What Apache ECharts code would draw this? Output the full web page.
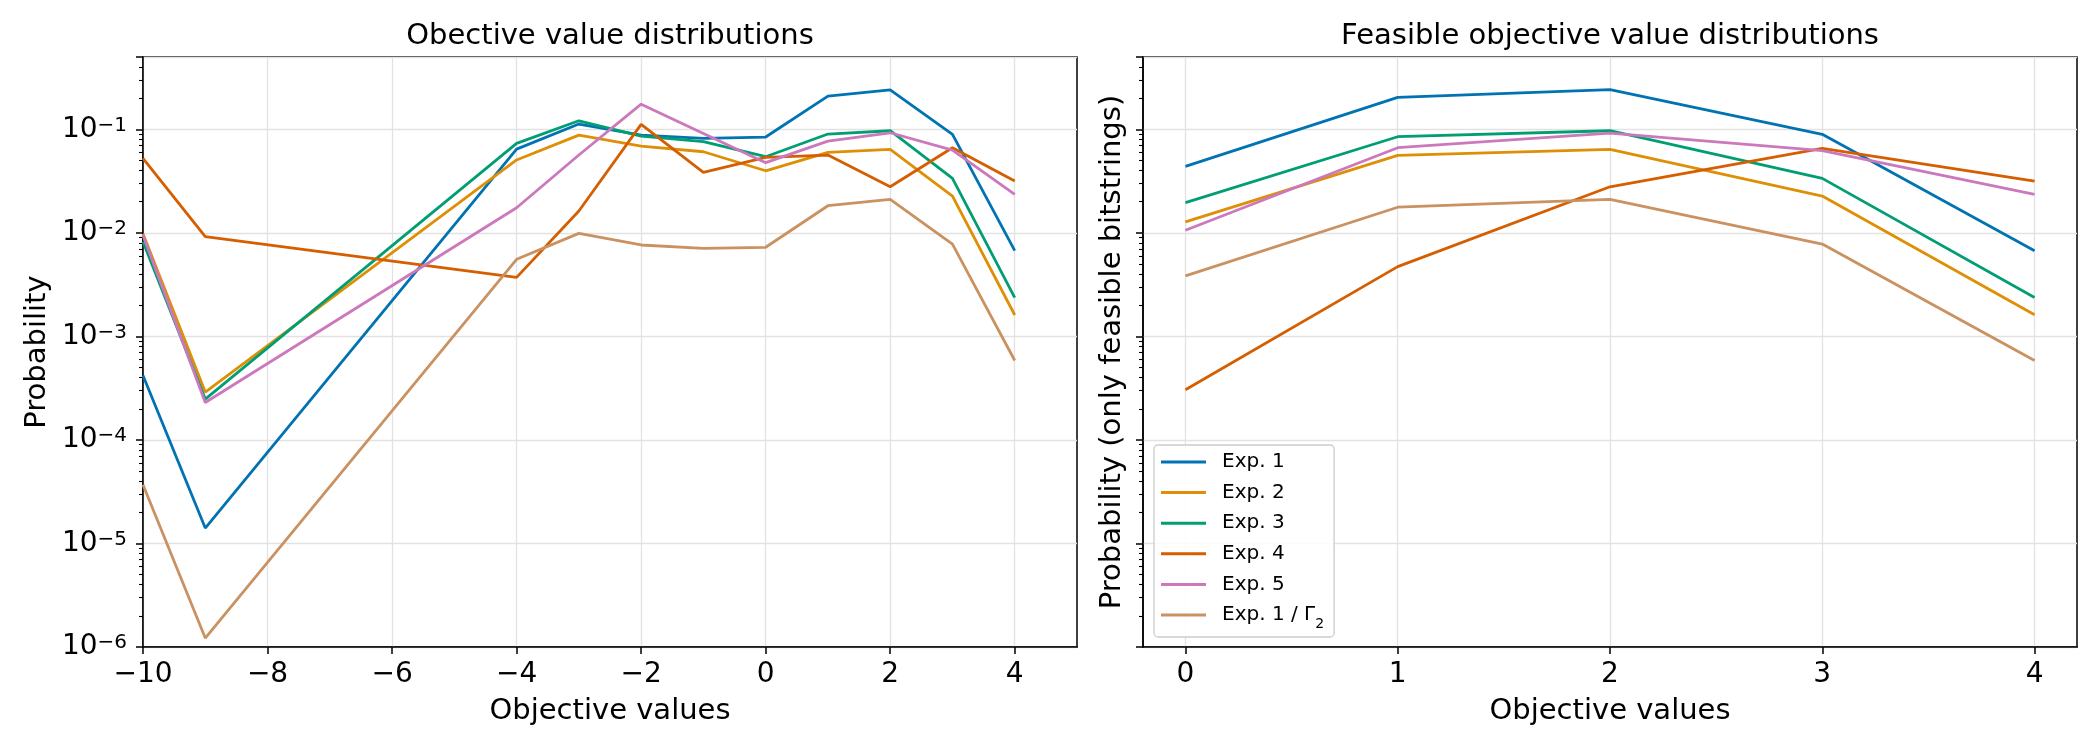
<!DOCTYPE html>
<html><head><meta charset="utf-8">
<script src="https://cdn.jsdelivr.net/npm/echarts@6/dist/echarts.min.js"></script>
<style>html,body{margin:0;padding:0;background:#fff}#c{width:2100px;height:750px}</style>
</head><body><div id="c"></div>
<script>
// ---------- data ----------
const seriesNames = ['Exp. 1', 'Exp. 2', 'Exp. 3', 'Exp. 4', 'Exp. 5', 'Exp. 1 / Γ2'];
const seriesColors = ['#0173B2', '#DE8F05', '#029E73', '#D55E00', '#CC78BC', '#CA9161'];

// left panel: all objective values
const allX = [-10, -9, -4, -3, -2, -1, 0, 1, 2, 3, 4];
const allExp1 = [4.2e-4, 1.41e-5, 0.0645, 0.1125, 0.088, 0.0818, 0.0843, 0.2096, 0.241, 0.0895, 0.00673];
const allExp2 = [0.0098, 2.9e-4, 0.0506, 0.088, 0.069, 0.0608, 0.0398, 0.060, 0.064, 0.0227, 0.00161];
const allExp3 = [0.0082, 2.48e-4, 0.0733, 0.121, 0.0861, 0.076, 0.0544, 0.0901, 0.097, 0.0336, 0.00237];
const allExp4 = [0.0525, 0.0092, 0.00372, 0.01626, 0.1117, 0.0385, 0.0537, 0.0565, 0.0279, 0.0665, 0.0317];
const allExp5 = [0.0095, 2.3e-4, 0.0175, 0.0565, 0.175, 0.0914, 0.0477, 0.077, 0.0927, 0.063, 0.0235];
const allExp1G2 = [3.69e-5, 1.22e-6, 0.00556, 0.0099, 0.00764, 0.0071, 0.00726, 0.0183, 0.0211, 0.0078, 5.85e-4];

// right panel: feasible objective values only
const feasX = [0, 1, 2, 3, 4];
const feasExp1 = [0.0439, 0.2037, 0.2415, 0.0895, 0.00673];
const feasExp2 = [0.0128, 0.0561, 0.064, 0.0227, 0.00162];
const feasExp3 = [0.0196, 0.0849, 0.097, 0.0336, 0.00238];
const feasExp4 = [3.05e-4, 0.00472, 0.0279, 0.0655, 0.0317];
const feasExp5 = [0.0106, 0.0665, 0.092, 0.0622, 0.0235];
const feasExp1G2 = [0.00384, 0.0177, 0.0211, 0.0078, 5.85e-4];

// axes / ticks
const leftXTicks = [-10, -8, -6, -4, -2, 0, 2, 4];
const rightXTicks = [0, 1, 2, 3, 4];
const yMin = 1e-6, yMax = 0.5;
const yDecades = [-6, -5, -4, -3, -2, -1];
const minorMantissas = [2, 3, 4, 5, 6, 7, 8, 9];

const titles = ['Obective value distributions', 'Feasible objective value distributions'];
const xName = 'Objective values';
const yNames = ['Probability', 'Probability (only feasible bitstrings)'];

// ---------- build ----------
const FONT = 'DejaVu Sans';
const allData = [allExp1, allExp2, allExp3, allExp4, allExp5, allExp1G2];
const feasData = [feasExp1, feasExp2, feasExp3, feasExp4, feasExp5, feasExp1G2];

const minorLog = [];
yDecades.forEach(e => minorMantissas.forEach(m => {
  const v = m * Math.pow(10, e);
  if (v < yMax) minorLog.push(Math.log10(v));
}));

const G = [
  {left: 143, top: 57, width: 934, height: 590},
  {left: 1143, top: 57, width: 934, height: 590}
];
const gridLineStyle = {color: '#e2e2e2', width: 1.3};
const minusFmt = v => (v < 0 ? '\u2212' + Math.abs(v) : String(v));

function mainY(gi, showLabels) {
  return {
    gridIndex: gi, type: 'log', logBase: 10, min: yMin, max: yMax, position: 'left',
    axisLine: {show: true, onZero: false, lineStyle: {color: '#000', width: 1.5}},
    axisTick: {show: true, length: 7, lineStyle: {color: '#000', width: 1.5}},
    splitLine: {show: true, lineStyle: gridLineStyle},
    axisLabel: {
      show: showLabels, margin: 16, color: '#000', fontFamily: FONT,
      formatter: v => {
        const l = Math.log10(v), e = Math.round(l);
        if (Math.abs(l - e) > 1e-6) return '';
        return '{b|10}{s|' + (e < 0 ? '\u2212' + (-e) : e) + '}';
      },
      rich: {
        b: {fontSize: 28, lineHeight: 28, fontFamily: FONT, color: '#000', verticalAlign: 'bottom', padding: [4, 0, 0, 0]},
        s: {fontSize: 20, lineHeight: 20, fontFamily: FONT, color: '#000', verticalAlign: 'top'}
      }
    },
    name: yNames[gi], nameLocation: 'middle', nameGap: gi === 0 ? 91 : 16,
    nameTextStyle: {fontSize: 29, fontFamily: FONT, color: '#000'}
  };
}
function minorY(gi) {
  return {
    gridIndex: gi, type: 'value', min: yDecades[0], max: Math.log10(yMax), position: 'left',
    axisLine: {show: false, onZero: false}, axisLabel: {show: false}, splitLine: {show: false},
    axisTick: {show: true, length: 4, customValues: minorLog, lineStyle: {color: '#000', width: 1.1}}
  };
}
function xAx(gi) {
  const ticks = gi === 0 ? leftXTicks : rightXTicks;
  const base = {
    gridIndex: gi, type: 'value', position: 'bottom',
    axisLine: {show: true, onZero: false, lineStyle: {color: '#000', width: 1.5}},
    axisTick: {show: true, length: 7, customValues: ticks, lineStyle: {color: '#000', width: 1.5}},
    splitLine: {show: true, lineStyle: gridLineStyle},
    axisLabel: {customValues: ticks, formatter: minusFmt, fontSize: 28, fontFamily: FONT, color: '#000', margin: 14},
    name: xName, nameLocation: 'middle', nameGap: 50,
    nameTextStyle: {fontSize: 29, fontFamily: FONT, color: '#000'}
  };
  if (gi === 0) Object.assign(base, {min: -10, max: 5, interval: 2});
  else Object.assign(base, {min: -0.2, max: 4.2, splitNumber: 4});
  return base;
}

const series = [];
seriesNames.forEach((n, k) => {
  series.push({
    name: n, type: 'line', xAxisIndex: 0, yAxisIndex: 0, symbol: 'none',
    lineStyle: {color: seriesColors[k], width: 2.8}, itemStyle: {color: seriesColors[k]},
    data: allX.map((x, i) => [x, allData[k][i]])
  });
  series.push({
    name: n, type: 'line', xAxisIndex: 1, yAxisIndex: 2, symbol: 'none',
    lineStyle: {color: seriesColors[k], width: 2.8}, itemStyle: {color: seriesColors[k]},
    data: feasX.map((x, i) => [x, feasData[k][i]])
  });
});

const option = {
  animation: false,
  backgroundColor: '#fff',
  title: [
    {text: titles[0], left: 610, top: 22, textAlign: 'center', padding: 0,
     textStyle: {fontSize: 29, fontWeight: 'normal', fontFamily: FONT, color: '#000'}},
    {text: titles[1], left: 1610, top: 22, textAlign: 'center', padding: 0,
     textStyle: {fontSize: 29, fontWeight: 'normal', fontFamily: FONT, color: '#000'}}
  ],
  grid: G.map(g => Object.assign({show: true, borderColor: '#000', borderWidth: 1.5, backgroundColor: 'transparent', containLabel: false}, g)),
  xAxis: [xAx(0), xAx(1)],
  yAxis: [mainY(0, true), minorY(0), mainY(1, false), minorY(1)],
  legend: {
    orient: 'vertical', left: 1154, top: 445, padding: [7, 10, 6, 7],
    itemWidth: 45, itemHeight: 3, itemGap: 10.6, icon: 'rect',
    backgroundColor: 'rgba(255,255,255,0.85)', borderColor: '#cccccc', borderWidth: 1.3, borderRadius: 4,
    data: seriesNames,
    formatter: name => name.replace('Γ2', 'Γ{sub|2}'),
    textStyle: {
      fontSize: 20, lineHeight: 20, fontFamily: FONT, color: '#000', padding: [0, 0, 0, 11],
      rich: {sub: {fontSize: 14, lineHeight: 8, fontFamily: FONT, color: '#000', verticalAlign: 'top', padding: [12, 0, 0, 0]}}
    }
  },
  series: series
};

const chart = echarts.init(document.getElementById('c'), null, {renderer: 'canvas'});
chart.setOption(option);
</script>
</body></html>
